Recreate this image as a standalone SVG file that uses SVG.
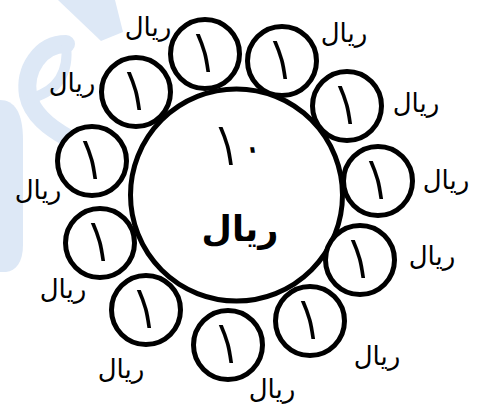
<svg xmlns="http://www.w3.org/2000/svg" width="482" height="408" viewBox="0 0 482 408">
<style>
.wm{fill:none;stroke:#dde8f6;stroke-linecap:round}
.wf{fill:#dde8f6}
.coin circle{fill:#fff;stroke:#000;stroke-width:5}
.d{font-family:"DejaVu Sans",sans-serif;font-size:60px;fill:#000;text-anchor:middle}
.lbl{font-family:"DejaVu Sans",sans-serif;font-size:26px;fill:#000;text-anchor:middle}
.big{font-family:"DejaVu Sans",sans-serif;font-size:35px;font-weight:bold;fill:#000;text-anchor:middle}
</style>
<rect width="482" height="408" fill="#fff"/>
<g id="watermark">
<path class="wf" d="M58 0 L115 0 L123 32 L101 41 Z"/>
<path class="wm" d="M66 44 C40 44 24 70 28 95 C32 115 50 128 68 138" stroke-width="18"/>
<path class="wm" d="M66 44 C69 70 60 90 32 98" stroke-width="10"/>
<path class="wf" d="M0 100 C14 100 23 112 23 140 L23 245 C23 262 16 271 6 272 L0 272 Z"/>
</g>
<g id="big-coin" class="coin">
<circle cx="236.5" cy="195" r="106"/>
<text class="d" transform="translate(240,165) scale(0.7,1) skewX(12)">۱<tspan font-size="32" font-weight="bold" dx="10" dy="-6">۰</tspan></text>
<text class="big" x="240" y="241">ریال</text>
</g>
<g id="c1" class="coin"><circle cx="205" cy="54" r="34.5"/><text class="d" transform="translate(207,72) scale(0.7,1) skewX(12)">۱</text></g>
<g id="c2" class="coin"><circle cx="282" cy="61" r="34.5"/><text class="d" transform="translate(284,79) scale(0.7,1) skewX(12)">۱</text></g>
<g id="c3" class="coin"><circle cx="347" cy="106" r="34.5"/><text class="d" transform="translate(349,124) scale(0.7,1) skewX(12)">۱</text></g>
<g id="c4" class="coin"><circle cx="378" cy="181" r="34.5"/><text class="d" transform="translate(380,199) scale(0.7,1) skewX(12)">۱</text></g>
<g id="c5" class="coin"><circle cx="360" cy="260" r="34.5"/><text class="d" transform="translate(362,278) scale(0.7,1) skewX(12)">۱</text></g>
<g id="c6" class="coin"><circle cx="310" cy="321" r="34.5"/><text class="d" transform="translate(312,339) scale(0.7,1) skewX(12)">۱</text></g>
<g id="c7" class="coin"><circle cx="228" cy="345" r="34.5"/><text class="d" transform="translate(230,363) scale(0.7,1) skewX(12)">۱</text></g>
<g id="c8" class="coin"><circle cx="146" cy="310" r="34.5"/><text class="d" transform="translate(148,328) scale(0.7,1) skewX(12)">۱</text></g>
<g id="c9" class="coin"><circle cx="100" cy="243" r="34.5"/><text class="d" transform="translate(102,261) scale(0.7,1) skewX(12)">۱</text></g>
<g id="c10" class="coin"><circle cx="92" cy="161" r="34.5"/><text class="d" transform="translate(94,179) scale(0.7,1) skewX(12)">۱</text></g>
<g id="c11" class="coin"><circle cx="136" cy="92" r="34.5"/><text class="d" transform="translate(138,110) scale(0.7,1) skewX(12)">۱</text></g>
<g id="labels">
<text class="lbl" x="148" y="36">ریال</text>
<text class="lbl" x="344" y="42">ریال</text>
<text class="lbl" x="416" y="112">ریال</text>
<text class="lbl" x="446" y="189">ریال</text>
<text class="lbl" x="432" y="265">ریال</text>
<text class="lbl" x="377" y="365">ریال</text>
<text class="lbl" x="272" y="398">ریال</text>
<text class="lbl" x="121" y="378">ریال</text>
<text class="lbl" x="63" y="298">ریال</text>
<text class="lbl" x="38" y="199">ریال</text>
<text class="lbl" x="72" y="92">ریال</text>
</g>
</svg>
